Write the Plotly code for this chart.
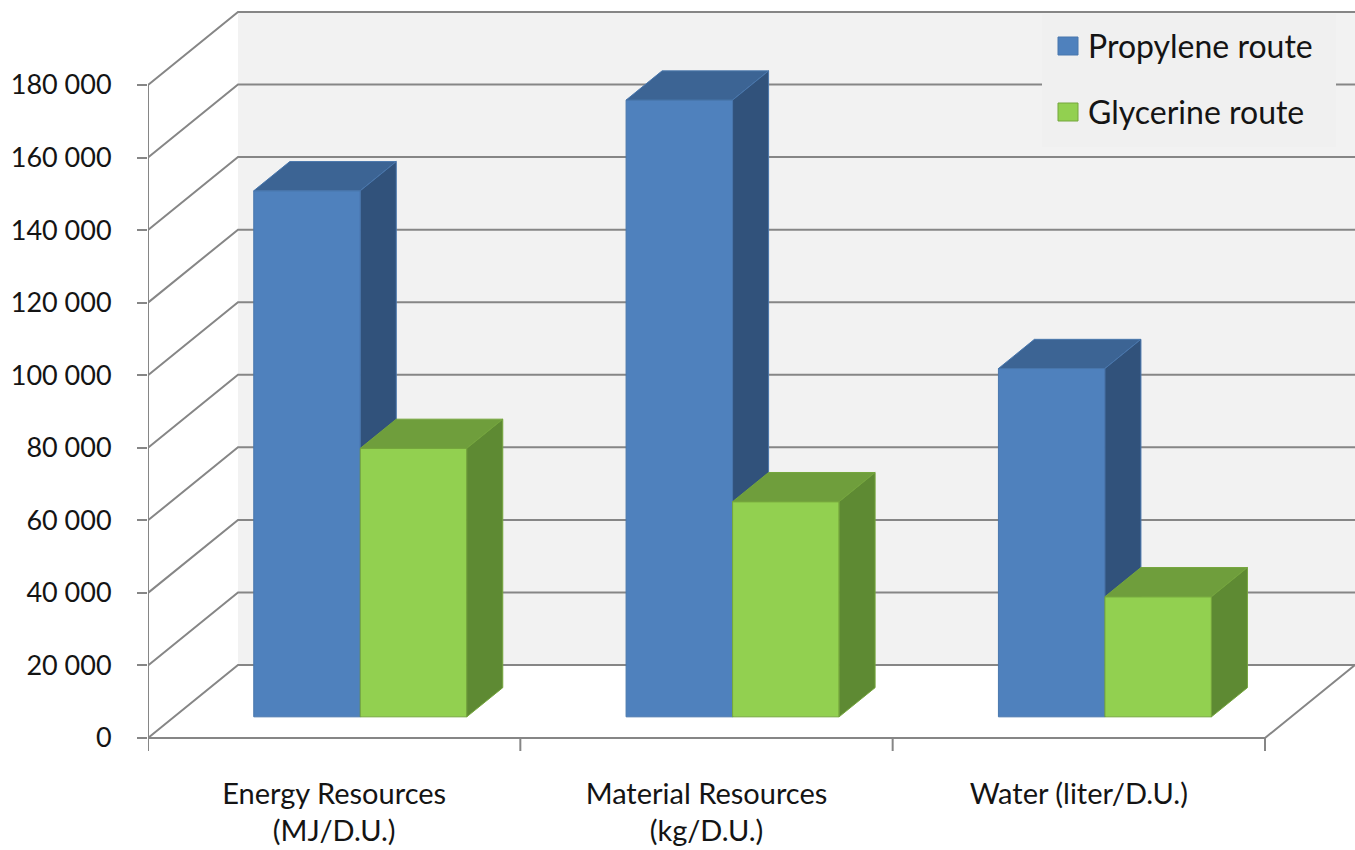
import plotly.graph_objects as go

# ---- data -------------------------------------------------------------
categories = ["Energy Resources<br>(MJ/D.U.)",
              "Material Resources<br>(kg/D.U.)",
              "Water (liter/D.U.)"]
series_names = ["Propylene route", "Glycerine route"]
propylene = [145000, 170000, 96000]
glycerine = [74000, 59300, 33100]
tick_values = [0, 20000, 40000, 60000, 80000, 100000, 120000, 140000, 160000, 180000]
tick_labels = ["0", "20 000", "40 000", "60 000", "80 000", "100 000",
               "120 000", "140 000", "160 000", "180 000"]

# ---- geometry of the oblique 3-D box (pixels -> axis units) ----------
W, H = 1355, 850
LEFT = 148            # pixel column of the front-left corner
FLOOR = 738           # pixel row of the front floor edge
CAT_PX = 372.33       # pixels per category on the front edge
K = 3.628 / 1000      # pixels per value unit
DEPTH_PX = (90, 73)   # full depth offset of the back wall (x right, y up)

DX = DEPTH_PX[0] / CAT_PX
DY = DEPTH_PX[1] / K
N = len(categories)
VMAX = tick_values[-1]
BAR_W = 106.5 / CAT_PX
D0, D1 = 0.29, 0.69   # depth span of the columns
TICK_DOWN = 13 / K

x_range = [0, (W - LEFT) / CAT_PX]
y_range = [(FLOOR - H) / K, FLOOR / K]

GRID = "#868686"
TEXT = "#141414"
FONT = "Lato"

colors = [
    dict(front="#4f81bd", top="#3c6494", side="#31527b", edge="#4977ad"),
    dict(front="#92d050", top="#6f9e3c", side="#5e8a33", edge="#75a63d"),
]


def proj(x, v, d):
    return x + d * DX, v + d * DY


fig = go.Figure()


def poly(points, fill, edge=None, width=0):
    xs = [p[0] for p in points] + [points[0][0]]
    ys = [p[1] for p in points] + [points[0][1]]
    fig.add_trace(go.Scatter(
        x=xs, y=ys, mode="lines", fill="toself", fillcolor=fill,
        line=dict(color=edge or fill, width=width),
        hoverinfo="skip", showlegend=False))


def lines(xs, ys, color=GRID, width=2):
    fig.add_trace(go.Scatter(
        x=xs, y=ys, mode="lines", line=dict(color=color, width=width),
        hoverinfo="skip", showlegend=False))


# back wall
poly([proj(0, 0, 1), proj(N, 0, 1), proj(N, VMAX, 1), proj(0, VMAX, 1)], "#f2f2f2")

# gridlines: left wall diagonal + back wall horizontal
gx, gy = [], []
for v in tick_values:
    for pt in (proj(0, v, 0), proj(0, v, 1), proj(N, v, 1)):
        gx.append(pt[0]); gy.append(pt[1])
    gx.append(None); gy.append(None)
lines(gx, gy)

# floor front/right edges, value axis line and category ticks
fx, fy = [], []
for pt in (proj(0, 0, 0), proj(N, 0, 0), proj(N, 0, 1)):
    fx.append(pt[0]); fy.append(pt[1])
fx.append(None); fy.append(None)
fx += [0, 0, None]; fy += [VMAX, -TICK_DOWN, None]
for i in range(1, N + 1):
    fx += [i, i, None]; fy += [0, -TICK_DOWN, None]
lines(fx, fy)

# columns
for i in range(N):
    for s, vals in enumerate([propylene, glycerine]):
        v = vals[i]
        c = colors[s]
        xl = i + 0.5 - BAR_W + s * BAR_W
        xr = xl + BAR_W
        poly([proj(xl, 0, D0), proj(xr, 0, D0), proj(xr, v, D0), proj(xl, v, D0)],
             c["front"], c["edge"], 1)
        poly([proj(xl, v, D0), proj(xr, v, D0), proj(xr, v, D1), proj(xl, v, D1)],
             c["top"], c["edge"], 1)
        poly([proj(xr, 0, D0), proj(xr, 0, D1), proj(xr, v, D1), proj(xr, v, D0)],
             c["side"], c["edge"], 1)

# category labels under the floor
fig.add_trace(go.Scatter(
    x=[i + 0.5 for i in range(N)], y=[(FLOOR - 782) / K] * N,
    mode="text", text=categories, textposition="bottom center",
    textfont=dict(family=FONT, size=29, color=TEXT),
    hoverinfo="skip", showlegend=False, cliponaxis=False))

# legend panel


def px_x(p):
    return (p - LEFT) / (W - LEFT)


def px_y(p):
    return (H - p) / H


shapes = [dict(type="rect", xref="paper", yref="paper",
               x0=px_x(1042), x1=px_x(1336), y0=px_y(147), y1=px_y(14),
               fillcolor="#f0f0f0", line=dict(width=0), layer="above")]
annotations = []
row_y = [46, 112]
for s, name in enumerate(series_names):
    cy = row_y[s]
    shapes.append(dict(type="rect", xref="paper", yref="paper",
                       x0=px_x(1058), x1=px_x(1078), y0=px_y(cy + 9), y1=px_y(cy - 9),
                       fillcolor=colors[s]["front"],
                       line=dict(color=colors[s]["edge"], width=1), layer="above"))
    annotations.append(dict(xref="paper", yref="paper", x=px_x(1086), y=px_y(cy),
                            xanchor="left", yanchor="middle", text=name,
                            showarrow=False,
                            font=dict(family=FONT, size=32, color=TEXT)))

fig.update_layout(
    width=W, height=H,
    margin=dict(l=LEFT, r=0, t=0, b=0, pad=0),
    paper_bgcolor="white", plot_bgcolor="white",
    shapes=shapes, annotations=annotations,
    hovermode=False,
    xaxis=dict(range=x_range, visible=False, fixedrange=True),
    yaxis=dict(range=y_range, tickvals=tick_values, ticktext=tick_labels,
               ticks="outside", ticklen=10, tickwidth=2, tickcolor=GRID,
               ticklabelstandoff=20,
               tickfont=dict(family=FONT, size=27, color=TEXT),
               showgrid=False, zeroline=False, showline=False, fixedrange=True),
)

fig.write_html("out.html")
